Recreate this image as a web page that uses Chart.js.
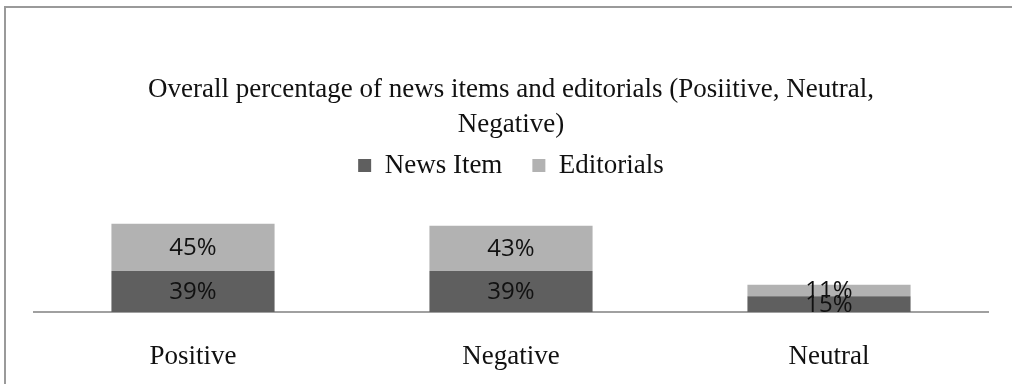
<!DOCTYPE html>
<html>
<head>
<meta charset="utf-8">
<script src="https://cdn.jsdelivr.net/npm/chart.js@4.4.0/dist/chart.umd.min.js"></script>
<style>
html,body{margin:0;padding:0;background:#fff;}
#wrap{width:1012px;height:384px;position:relative;}
</style>
</head>
<body>
<div id="wrap"><canvas id="c" width="1012" height="384"></canvas></div>
<script>
const categories = ["Positive", "Negative", "Neutral"];
const newsItem = [39, 39, 15];
const editorials = [45, 43, 11];
const titleLines = ["Overall percentage of news items and editorials (Posiitive, Neutral,", "Negative)"];

const frame = {
  id: 'frame',
  beforeDraw(chart) {
    const ctx = chart.ctx;
    ctx.save();
    ctx.fillStyle = '#fff';
    ctx.fillRect(0, 0, chart.width, chart.height);
    ctx.strokeStyle = '#9a9a9a';
    ctx.lineWidth = 2;
    ctx.strokeRect(5, 7, 2000, 2000);
    ctx.restore();
  }
};

const segLabels = {
  id: 'segLabels',
  afterDatasetsDraw(chart) {
    const ctx = chart.ctx;
    ctx.save();
    ctx.font = '24px "Open Sans"';
    ctx.fillStyle = '#111';
    ctx.textAlign = 'center';
    ctx.textBaseline = 'middle';
    chart.data.datasets.forEach((ds, di) => {
      const meta = chart.getDatasetMeta(di);
      meta.data.forEach((bar, i) => {
        const y = (bar.y + bar.base) / 2;
        ctx.fillText(ds.data[i] + '%', bar.x, y + 1);
      });
    });
    ctx.restore();
  }
};

new Chart(document.getElementById('c'), {
  type: 'bar',
  data: {
    labels: categories,
    datasets: [
      { label: 'News Item', data: newsItem, backgroundColor: '#5f5f5f', borderWidth: 0 },
      { label: 'Editorials', data: editorials, backgroundColor: '#b2b2b2', borderWidth: 0 }
    ]
  },
  options: {
    responsive: false,
    animation: false,
    devicePixelRatio: 1,
    layout: { padding: { left: 34, right: 24, top: 72, bottom: 10 } },
    datasets: { bar: { barPercentage: 1, categoryPercentage: 0.513 } },
    plugins: {
      title: {
        display: true,
        text: titleLines,
        color: '#111',
        font: { family: '"Liberation Serif"', size: 27, weight: 'normal', lineHeight: 1.296 },
        padding: { top: 0, bottom: -20 }
      },
      legend: {
        display: true,
        labels: {
          color: '#111',
          font: { family: '"Liberation Serif"', size: 27 },
          boxWidth: 13, boxHeight: 13, padding: 30
        }
      },
      tooltip: { enabled: false }
    },
    scales: {
      x: {
        stacked: true,
        grid: { display: false, drawTicks: false },
        border: { display: true, color: '#a0a0a0', width: 2 },
        ticks: { color: '#111', padding: 29, font: { family: '"Liberation Serif"', size: 27 } },
        afterFit(scale) { scale.height = 62; }
      },
      y: {
        stacked: true,
        display: false,
        min: 0, max: 117
      }
    }
  },
  plugins: [frame, segLabels]
});
</script>
</body>
</html>
